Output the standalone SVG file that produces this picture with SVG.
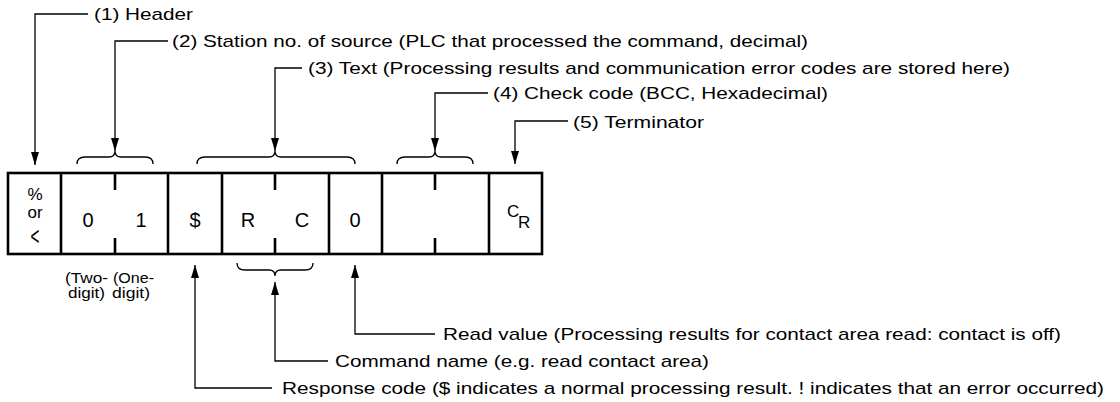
<svg xmlns="http://www.w3.org/2000/svg" width="1120" height="402" viewBox="0 0 1120 402">
<style>
.lbl{font-family:"Liberation Sans",Arial,sans-serif;font-size:17px;fill:#000}
.cell{font-family:"Liberation Sans",Arial,sans-serif;font-size:20px;fill:#000;text-anchor:middle}
.sm{font-family:"Liberation Sans",Arial,sans-serif;font-size:14px;fill:#000}
.conn{fill:none;stroke:#000;stroke-width:1.3}
.brace{fill:none;stroke:#000;stroke-width:1.3}
.box{fill:#fff;stroke:#000;stroke-width:2.6}
.div{stroke:#000;stroke-width:2.6}
</style>
<defs>
<marker id="ah" viewBox="0 0 13 8" markerWidth="13" markerHeight="8" refX="13" refY="4" orient="auto" markerUnits="userSpaceOnUse">
<path d="M0,0 L13,4 L0,8 z" fill="#000"/>
</marker>
</defs>

<g id="frame">
<rect class="box" x="8" y="173" width="534" height="81"/>
<line class="div" x1="61" y1="173" x2="61" y2="254"/>
<line class="div" x1="168" y1="173" x2="168" y2="254"/>
<line class="div" x1="222" y1="173" x2="222" y2="254"/>
<line class="div" x1="329" y1="173" x2="329" y2="254"/>
<line class="div" x1="382" y1="173" x2="382" y2="254"/>
<line class="div" x1="489" y1="173" x2="489" y2="254"/>
<line class="div" x1="115" y1="173" x2="115" y2="190"/>
<line class="div" x1="115" y1="238" x2="115" y2="254"/>
<line class="div" x1="275" y1="173" x2="275" y2="190"/>
<line class="div" x1="275" y1="238" x2="275" y2="254"/>
<line class="div" x1="435" y1="173" x2="435" y2="190"/>
<line class="div" x1="435" y1="238" x2="435" y2="254"/>
</g>

<g id="cell-header">
<text class="lbl" x="35" y="200" text-anchor="middle" font-size="18">%</text>
<text class="lbl" x="35" y="218" text-anchor="middle">or</text>
<text class="lbl" transform="translate(35,245) scale(0.9,1.55)" x="0" y="0" text-anchor="middle">&lt;</text>
</g>
<g id="cell-station">
<text class="cell" x="88" y="227">0</text>
<text class="cell" x="141" y="227">1</text>
</g>
<g id="cell-response">
<text class="cell" x="195" y="227">$</text>
</g>
<g id="cell-command">
<text class="cell" x="248" y="227">R</text>
<text class="cell" x="302" y="227">C</text>
</g>
<g id="cell-value">
<text class="cell" x="355" y="227">0</text>
</g>
<g id="cell-check"></g>
<g id="cell-terminator">
<text class="lbl" x="507" y="217">C</text>
<text class="lbl" x="518" y="228">R</text>
</g>

<g id="braces">
<path class="brace" d="M77,164 Q77,157 85,157 H109 Q115,157 115,151 Q115,157 121,157 H145 Q153,157 153,164"/>
<path class="brace" d="M197,164 Q197,157 205,157 H269 Q275,157 275,151 Q275,157 281,157 H347 Q355,157 355,164"/>
<path class="brace" d="M397,164 Q397,157 405,157 H429 Q435,157 435,151 Q435,157 441,157 H465 Q473,157 473,164"/>
<path class="brace" d="M237,263 Q237,270 245,270 H269 Q275,270 275,276 Q275,270 281,270 H305 Q313,270 313,263"/>
</g>

<g id="connectors">
<path class="conn" d="M88,14 H35 V165" marker-end="url(#ah)"/>
<path class="conn" d="M168,41 H115 V151" marker-end="url(#ah)"/>
<path class="conn" d="M302,68 H275 V151" marker-end="url(#ah)"/>
<path class="conn" d="M488,93 H435 V151" marker-end="url(#ah)"/>
<path class="conn" d="M568,121 H515 V164" marker-end="url(#ah)"/>
<path class="conn" d="M435,334 H355 V265" marker-end="url(#ah)"/>
<path class="conn" d="M328,361 H275 V282" marker-end="url(#ah)"/>
<path class="conn" d="M272,388 H195 V265" marker-end="url(#ah)"/>
</g>

<g id="labels">
<text class="lbl" x="94" y="20" textLength="99" lengthAdjust="spacingAndGlyphs">(1) Header</text>
<text class="lbl" x="172" y="47" textLength="636" lengthAdjust="spacingAndGlyphs">(2) Station no. of source (PLC that processed the command, decimal)</text>
<text class="lbl" x="308" y="74" textLength="702" lengthAdjust="spacingAndGlyphs">(3) Text (Processing results and communication error codes are stored here)</text>
<text class="lbl" x="493" y="99" textLength="335" lengthAdjust="spacingAndGlyphs">(4) Check code (BCC, Hexadecimal)</text>
<text class="lbl" x="573" y="128" textLength="131" lengthAdjust="spacingAndGlyphs">(5) Terminator</text>
<text class="lbl" x="443" y="340" textLength="618" lengthAdjust="spacingAndGlyphs">Read value (Processing results for contact area read: contact is off)</text>
<text class="lbl" x="335" y="367" textLength="374" lengthAdjust="spacingAndGlyphs">Command name (e.g. read contact area)</text>
<text class="lbl" x="282" y="394" textLength="822" lengthAdjust="spacingAndGlyphs">Response code ($ indicates a normal processing result. ! indicates that an error occurred)</text>
<text class="sm" x="65" y="283" textLength="43" lengthAdjust="spacingAndGlyphs">(Two-</text>
<text class="sm" x="113" y="283" textLength="41" lengthAdjust="spacingAndGlyphs">(One-</text>
<text class="sm" x="68" y="298" textLength="37" lengthAdjust="spacingAndGlyphs">digit)</text>
<text class="sm" x="112" y="298" textLength="38" lengthAdjust="spacingAndGlyphs">digit)</text>
</g>
</svg>
